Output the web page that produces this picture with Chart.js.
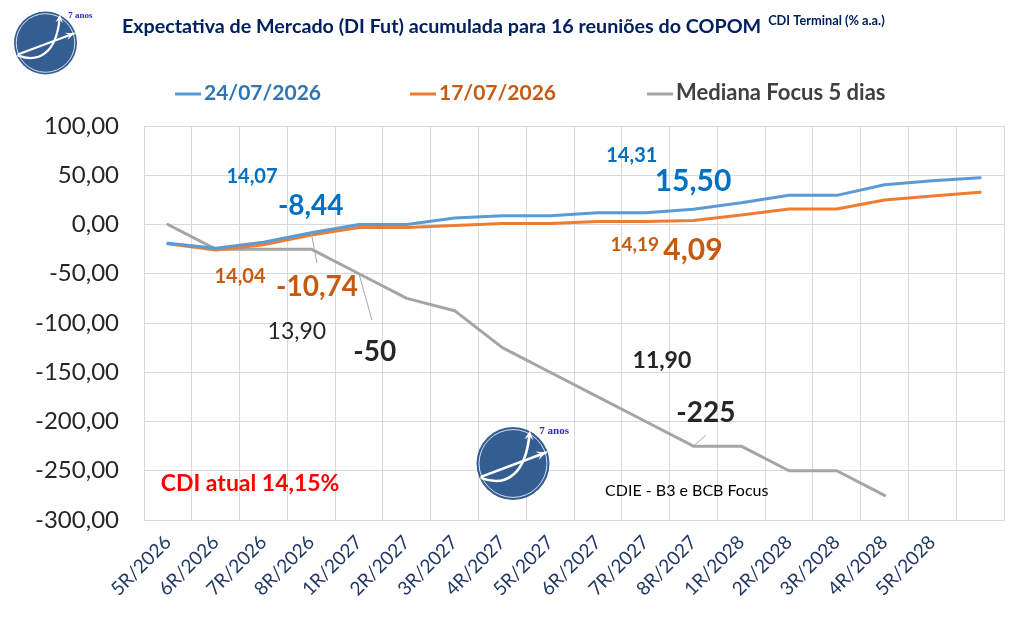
<!DOCTYPE html>
<html lang="pt-br">
<head>
  <meta charset="UTF-8">
  <title>Expectativa de Mercado (DI Fut)</title>
  <script src="https://cdn.jsdelivr.net/npm/chart.js"></script>
  <style>
    html, body { margin: 0; padding: 0; background: #fff; }
    canvas { display: block; }
  </style>
</head>
<body>
  <canvas id="myChart" width="1011" height="629"></canvas>

  <script>
    // reuniões do COPOM (a última categoria fica sem rótulo)
    const reunioes = ['5R/2026', '6R/2026', '7R/2026', '8R/2026', '1R/2027', '2R/2027', '3R/2027', '4R/2027',
      '5R/2027', '6R/2027', '7R/2027', '8R/2027', '1R/2028', '2R/2028', '3R/2028', '4R/2028', '5R/2028', ''];

    const di2407 = [-19, -24, -18, -8.44, 0, 0, 6.5, 9, 9, 12, 12, 15.50, 22, 29.6, 29.6, 40.4, 44.5, 47.5];
    const di1707 = [-19.5, -26, -20.5, -10.74, -3, -3, -1, 1, 1, 3, 3, 4.09, 9.6, 15.7, 15.7, 24.9, 29, 32.7];
    const focus5d = [0, -25, -25, -25, -50, -75, -87.5, -125, -150, -175, -200, -225, -225, -250, -250, -275, null, null];

    const nomes = ['24/07/2026', '17/07/2026', 'Mediana Focus 5 dias'];
    // CDI terminal (% a.a.) de cada curva: 24/07, 17/07, Focus (8R/2026 e 8R/2027)
    const cdiTerminal = [14.07, 14.04, 13.90, 14.31, 14.19, 11.90];
    const cdiAtual = 14.15;

    const yMin = -300, yMax = 100, yPasso = 50;

    const fmt = v => v.toFixed(2).replace('.', ',');

    const AZUL = '#0070C0', LARANJA = '#C55A11', ESCURO = '#262626';

    // textos soltos, posicionados em coordenadas do gráfico (índice da reunião, valor)
    const notas = [
      { t: fmt(cdiTerminal[0]), x: 1.76, y: 49, c: AZUL, f: 'bold 20px Lato' },
      { t: fmt(di2407[3]), x: 2.99, y: 19, c: AZUL, f: 'bold 28px Lato' },
      { t: fmt(cdiTerminal[1]), x: 1.51, y: -53, c: LARANJA, f: 'bold 20px Lato' },
      { t: fmt(di1707[3]), x: 3.12, y: -63.5, c: LARANJA, f: 'bold 28px Lato' },
      { t: fmt(cdiTerminal[2]), x: 2.70, y: -109, c: ESCURO, f: '23px Lato' },
      { t: String(focus5d[4]), x: 4.33, y: -129, c: ESCURO, f: 'bold 28px Lato' },
      { t: fmt(cdiTerminal[3]), x: 9.71, y: 70.5, c: AZUL, f: 'bold 20px Lato' },
      { t: fmt(di2407[11]), x: 10.99, y: 44, c: AZUL, f: 'bold 30px Lato' },
      { t: fmt(cdiTerminal[4]), x: 9.77, y: -21, c: LARANJA, f: 'bold 19px Lato' },
      { t: fmt(di1707[11]), x: 10.99, y: -26, c: LARANJA, f: 'bold 30px Lato' },
      { t: fmt(cdiTerminal[5]), x: 10.34, y: -138.6, c: ESCURO, f: 'bold 23px Lato' },
      { t: String(focus5d[11]), x: 11.26, y: -191, c: ESCURO, f: 'bold 28px Lato' },
      { t: 'CDI atual ' + cdiAtual.toFixed(2).replace('.', ',') + '%', x: 1.72, y: -263, c: '#FF0000', f: 'bold 23px Lato' },
      { t: 'CDIE - B3 e BCB Focus', x: 10.86, y: -270.5, c: '#000000', f: '16px Lato' }
    ];

    const linhasGuia = [
      { de: [3, di2407[3]], ate: [3.12, -39] },
      { de: [4, focus5d[4]], ate: [4.27, -97] },
      { de: [11, focus5d[11]], ate: [11.26, -214] }
    ];

    function desenhaLogo(c, cx, cy, r) {
      c.save();
      c.fillStyle = '#345E91';
      c.beginPath(); c.arc(cx, cy, r, 0, Math.PI * 2); c.fill();
      c.strokeStyle = 'rgba(255,255,255,0.8)';
      c.lineWidth = 1;
      c.beginPath(); c.arc(cx, cy, r * 0.93, 0, Math.PI * 2); c.stroke();
      c.strokeStyle = '#fff';
      c.fillStyle = '#fff';
      c.lineWidth = Math.max(1.5, r * 0.07);
      c.lineCap = 'round';
      // seta reta
      const x1 = cx - 0.86 * r, y1 = cy + 0.36 * r, x2 = cx + 0.9 * r, y2 = cy - 0.3 * r;
      c.beginPath(); c.moveTo(x1, y1); c.lineTo(x2, y2); c.stroke();
      seta(c, x2, y2, Math.atan2(y2 - y1, x2 - x1), r * 0.28);
      // seta curva
      c.beginPath();
      c.moveTo(cx - 0.86 * r, cy + 0.4 * r);
      c.bezierCurveTo(cx - 0.2 * r, cy + 0.65 * r, cx + 0.35 * r, cy + 0.3 * r, cx + 0.45 * r, cy - 0.8 * r);
      c.stroke();
      seta(c, cx + 0.46 * r, cy - 0.9 * r, -Math.PI / 2 + 0.1, r * 0.28);
      c.restore();
      c.save();
      c.fillStyle = '#2B2BD0';
      c.font = 'bold ' + Math.round(r * 0.3) + 'px "Liberation Serif"';
      c.textAlign = 'left';
      c.textBaseline = 'middle';
      c.fillText('7 anos', cx + r * 0.72, cy - r * 0.88);
      c.restore();
    }

    function seta(c, x, y, ang, s) {
      c.beginPath();
      c.moveTo(x, y);
      c.lineTo(x - s * Math.cos(ang - 0.45), y - s * Math.sin(ang - 0.45));
      c.lineTo(x - s * 0.55 * Math.cos(ang), y - s * 0.55 * Math.sin(ang));
      c.lineTo(x - s * Math.cos(ang + 0.45), y - s * Math.sin(ang + 0.45));
      c.closePath();
      c.fill();
    }

    const extras = {
      id: 'extras',
      afterDatasetsDraw(chart) {
        const c = chart.ctx, xs = chart.scales.x, ys = chart.scales.y;
        c.save();
        c.strokeStyle = '#A6A6A6';
        c.lineWidth = 1;
        linhasGuia.forEach(l => {
          c.beginPath();
          c.moveTo(xs.getPixelForValue(l.de[0]), ys.getPixelForValue(l.de[1]));
          c.lineTo(xs.getPixelForValue(l.ate[0]), ys.getPixelForValue(l.ate[1]));
          c.stroke();
        });
        c.textAlign = 'center';
        c.textBaseline = 'middle';
        notas.forEach(n => {
          c.font = n.f;
          c.fillStyle = n.c;
          c.fillText(n.t, xs.getPixelForValue(n.x), ys.getPixelForValue(n.y));
        });
        c.restore();
      },
      afterDraw(chart) {
        const c = chart.ctx;
        c.save();
        // título
        c.fillStyle = '#002060';
        c.textBaseline = 'alphabetic';
        c.textAlign = 'left';
        c.font = 'bold 19.7px Lato';
        const titulo = 'Expectativa de Mercado (DI Fut) acumulada para 16 reuniões do COPOM';
        c.fillText(titulo, 122, 33);
        const w = c.measureText(titulo).width;
        c.font = 'bold 12.8px Lato';
        c.fillText('CDI Terminal (% a.a.)', 122 + w + 7, 25);

        // legenda
        const corTexto = ['#2E75B6', LARANJA, '#404040'];
        const xLeg = [175, 410, 647];
        c.textBaseline = 'middle';
        chart.data.datasets.forEach((ds, i) => {
          c.strokeStyle = ds.borderColor;
          c.lineWidth = 3;
          c.beginPath(); c.moveTo(xLeg[i], 94); c.lineTo(xLeg[i] + 26, 94); c.stroke();
          c.fillStyle = corTexto[i];
          c.font = i < 2 ? 'bold 21px Lato' : 'bold 22px Lato';
          c.fillText(ds.label, xLeg[i] + 29, 93);
        });
        c.restore();

        desenhaLogo(c, 45.5, 43, 31.5);
        desenhaLogo(c, 513, 463.5, 36.5);
      }
    };

    const ctx = document.getElementById('myChart').getContext('2d');
    const chart = new Chart(ctx, {
      type: 'line',
      data: {
        labels: reunioes,
        datasets: [
          { label: nomes[0], data: di2407, borderColor: '#5B9BD5', backgroundColor: '#5B9BD5' },
          { label: nomes[1], data: di1707, borderColor: '#ED7D31', backgroundColor: '#ED7D31' },
          { label: nomes[2], data: focus5d, borderColor: '#A5A5A5', backgroundColor: '#A5A5A5' }
        ]
      },
      options: {
        responsive: false,
        animation: false,
        layout: { padding: { top: 126, right: 7, left: 0, bottom: 0 } },
        elements: {
          point: { radius: 0 },
          line: { borderWidth: 3, tension: 0, borderJoinStyle: 'round', borderCapStyle: 'round' }
        },
        plugins: { legend: { display: false }, tooltip: { enabled: false } },
        scales: {
          x: {
            offset: true,
            grid: { offset: true, color: '#D9D9D9', drawTicks: false },
            border: { color: '#D9D9D9' },
            ticks: {
              autoSkip: false, minRotation: 45, maxRotation: 45,
              color: '#1F3864', font: { family: 'Lato', size: 19 }, padding: 11
            },
            afterFit: s => { s.height = 109; }
          },
          y: {
            min: yMin, max: yMax,
            grid: { color: '#D9D9D9', drawTicks: false },
            border: { color: '#D9D9D9' },
            ticks: {
              stepSize: yPasso,
              callback: v => fmt(v),
              color: ESCURO, font: { family: 'Lato', size: 24 }, padding: 25
            },
            afterFit: s => { s.width = 144; }
          }
        }
      },
      plugins: [extras]
    });
  </script>
</body>
</html>
